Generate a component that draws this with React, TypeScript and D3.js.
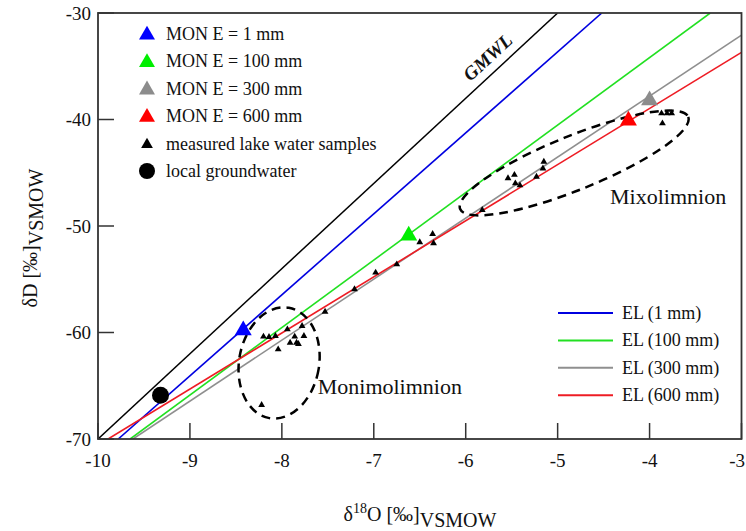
import React from "react";
import * as d3 from "d3";

// ---- data ----
const xTicks = [-10, -9, -8, -7, -6, -5, -4, -3];
const yTicks = [-70, -60, -50, -40, -30];

const gmwlX = [-10, -5];
const gmwlY = [-70, -30];

const elLabels = ["EL (1 mm)", "EL (100 mm)", "EL (300 mm)", "EL (600 mm)"];
const elStartX = [-9.78, -9.65, -9.62, -9.89];
const elStartY = [-70, -70, -70, -70];
const elEndX = [-4.52, -3.34, -3.0, -3.0];
const elEndY = [-30, -30, -32.07, -33.7];

const monLabels = ["MON E = 1 mm", "MON E = 100 mm", "MON E = 300 mm", "MON E = 600 mm"];
const monX = [-8.42, -6.62, -4.0, -4.23];
const monY = [-59.8, -50.9, -38.2, -40.1];

const groundwaterX = [-9.32];
const groundwaterY = [-65.9];

const lakeX = [
  -8.2, -8.14, -8.07, -7.94, -8.04, -7.91, -7.86, -7.84, -7.82, -7.76, -7.78, -7.53, -8.22,
  -7.21, -6.98, -6.75, -6.5, -6.36, -6.35, -5.82,
  -5.54, -5.47, -5.46, -5.41, -5.23, -5.15, -5.16, -3.87, -3.81, -3.76, -3.86,
];
const lakeY = [
  -60.39, -60.42, -60.33, -59.7, -61.58, -60.96, -60.39, -60.96, -61.08, -60.33, -59.39, -58.05, -66.8,
  -55.94, -54.38, -53.6, -51.53, -50.75, -51.62, -48.5,
  -45.52, -45.2, -46.0, -46.18, -45.37, -43.96, -44.6, -39.42, -39.42, -39.42, -40.36,
];

const zoneLabels = ["Monimolimnion", "Mixolimnion"];
const zoneCenterX = [-8.03, -4.82];
const zoneCenterY = [-62.86, -44.08];
const zoneLabelX = [-7.61, -4.43];
const zoneLabelY = [-65.8, -47.9];

// ---- styles ----
const elColors = ["#0000e0", "#22e022", "#8f8f8f", "#ee1c24"];
const monColors = ["#0000ff", "#00ee00", "#8c8c8c", "#ff0000"];
const zoneRx = [40, 123];
const zoneRy = [56, 27];
const zoneRot = [10, -22];

const W = 746;
const H = 531;
const M = { left: 98, right: 741.5, top: 13, bottom: 439 };
const FONT = "'Liberation Serif', 'Times New Roman', serif";

export default function App() {
  const x = d3.scaleLinear().domain([-10, -3]).range([M.left, M.right]);
  const y = d3.scaleLinear().domain([-70, -30]).range([M.bottom, M.top]);
  const tri = (size: number) => d3.symbol().type(d3.symbolTriangle).size(size)() as string;
  const line = d3.line<[number, number]>().x((d) => x(d[0])).y((d) => y(d[1]));

  const gmwlPts: [number, number][] = gmwlX.map((v, i) => [v, gmwlY[i]]);
  const gmwlAngle =
    (Math.atan2(y(gmwlY[1]) - y(gmwlY[0]), x(gmwlX[1]) - x(gmwlX[0])) * 180) / Math.PI;

  const tickLen = 16;
  const lastX = xTicks[xTicks.length - 1];

  return (
    <svg
      width={W}
      height={H}
      style={{ position: "absolute", left: 0, top: 0, background: "#fff" }}
      fontFamily={FONT}
    >
      <defs>
        <clipPath id="plot">
          <rect x={M.left} y={M.top} width={M.right - M.left} height={M.bottom - M.top} />
        </clipPath>
      </defs>

      {/* ticks */}
      {xTicks.map((t) => (
        <g key={"xt" + t}>
          <line x1={x(t)} x2={x(t)} y1={M.bottom} y2={M.bottom - tickLen} stroke="#333" strokeWidth={1.5} />
          <text
            x={t === lastX ? W - 1 : x(t)}
            y={467}
            fontSize={19}
            textAnchor={t === lastX ? "end" : "middle"}
            fill="#111"
          >
            {t}
          </text>
        </g>
      ))}
      {yTicks.map((t) => (
        <g key={"yt" + t}>
          <line x1={M.left} x2={M.left + tickLen} y1={y(t)} y2={y(t)} stroke="#333" strokeWidth={1.5} />
          <text x={91} y={y(t)} dy="0.35em" fontSize={19} textAnchor="end" fill="#111">
            {t}
          </text>
        </g>
      ))}

      {/* lines */}
      <g clipPath="url(#plot)">
        <path d={line(gmwlPts) || ""} stroke="#000" strokeWidth={1.5} fill="none" />
        {elLabels.map((l, i) => (
          <path
            key={l}
            d={line([
              [elStartX[i], elStartY[i]],
              [elEndX[i], elEndY[i]],
            ]) || ""}
            stroke={elColors[i]}
            strokeWidth={1.6}
            fill="none"
          />
        ))}
      </g>

      {/* zone ellipses */}
      {zoneLabels.map((z, i) => (
        <g key={z}>
          <ellipse
            cx={0}
            cy={0}
            rx={zoneRx[i]}
            ry={zoneRy[i]}
            transform={`translate(${x(zoneCenterX[i])},${y(zoneCenterY[i])}) rotate(${zoneRot[i]})`}
            fill="none"
            stroke="#000"
            strokeWidth={2.5}
            strokeDasharray="9,6"
          />
          <text x={x(zoneLabelX[i])} y={y(zoneLabelY[i])} fontSize={22} fill="#111">
            {z}
          </text>
        </g>
      ))}

      {/* lake samples */}
      {lakeX.map((v, i) => (
        <path key={"lk" + i} d={tri(20)} transform={`translate(${x(v)},${y(lakeY[i])})`} fill="#000" />
      ))}

      {/* groundwater */}
      {groundwaterX.map((v, i) => (
        <circle key={"gw" + i} cx={x(v)} cy={y(groundwaterY[i])} r={8.5} fill="#000" />
      ))}

      {/* MON markers */}
      {monLabels.map((l, i) => (
        <path key={l} d={tri(125)} transform={`translate(${x(monX[i])},${y(monY[i])})`} fill={monColors[i]} />
      ))}

      {/* GMWL label */}
      <text
        transform={`translate(492,62) rotate(${gmwlAngle})`}
        fontSize={19}
        fontWeight="bold"
        fontStyle="italic"
        textAnchor="middle"
        fill="#111"
      >
        GMWL
      </text>

      {/* frame */}
      <rect
        x={M.left}
        y={M.top}
        width={M.right - M.left}
        height={M.bottom - M.top}
        fill="none"
        stroke="#333"
        strokeWidth={1.8}
      />

      {/* top-left legend */}
      {monLabels.map((l, i) => (
        <g key={"lg" + l} transform={`translate(0,${34 + i * 27.4})`}>
          <path d={tri(110)} transform="translate(147,1)" fill={monColors[i]} />
          <text x={166} y={6} fontSize={18} fill="#111">
            {l}
          </text>
        </g>
      ))}
      <g transform={`translate(0,${34 + 4 * 27.4})`}>
        <path d={tri(60)} transform="translate(147,1)" fill="#000" />
        <text x={166} y={6} fontSize={18} fill="#111">
          measured lake water samples
        </text>
      </g>
      <g transform={`translate(0,${34 + 5 * 27.4})`}>
        <circle cx={147} cy={0} r={8} fill="#000" />
        <text x={166} y={6} fontSize={18} fill="#111">
          local groundwater
        </text>
      </g>

      {/* bottom-right legend */}
      {elLabels.map((l, i) => (
        <g key={"el" + l} transform={`translate(0,${313 + i * 27.4})`}>
          <line x1={558} x2={613} y1={0} y2={0} stroke={elColors[i]} strokeWidth={2} />
          <text x={622} y={6} fontSize={18} fill="#111">
            {l}
          </text>
        </g>
      ))}

      {/* axis titles */}
      <text x={420} y={521} fontSize={20} textAnchor="middle" fill="#111">
        δ<tspan dy={-8} fontSize={14}>18</tspan>
        <tspan dy={8}>O [‰]</tspan>
        <tspan dy={6}>VSMOW</tspan>
      </text>
      <text transform="translate(37,238) rotate(-90)" fontSize={20} textAnchor="middle" fill="#111">
        δD [‰]<tspan dy={6}>VSMOW</tspan>
      </text>
    </svg>
  );
}
